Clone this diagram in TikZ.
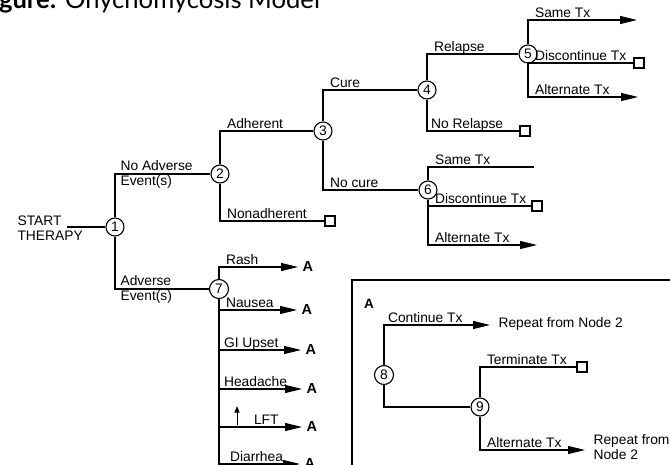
\documentclass[tikz,border=0pt]{standalone}
\usepackage{fontspec}
\setmainfont{Liberation Sans}
\newfontfamily\titlefont{Lato}
\usetikzlibrary{arrows.meta,positioning}

\begin{document}
\begin{tikzpicture}[x=1pt, y=-1pt, >={Triangle[length=17pt,width=8pt]}, line width=1.1pt, font=\fontsize{13.8}{15}\selectfont]
\tikzstyle{chance}=[circle,draw=black,fill=white,minimum size=18pt,inner sep=0pt]
\tikzstyle{stop}=[draw=black,fill=white,minimum size=10pt,inner sep=0pt]
\tikzstyle{elbow}=[to path={|- (\tikztotarget) \tikztonodes}]
\tikzstyle{lbl}=[anchor=south west,xshift=5pt,inner sep=1.5pt,text depth=0pt]
\tikzstyle{lbl2}=[anchor=west,xshift=5pt,align=left,inner sep=0pt]
\tikzstyle{goA}=[anchor=west,inner sep=4pt,font=\bfseries\fontsize{14.5}{15}\selectfont]
\useasboundingbox (0,0) rectangle (670,465);

% title, cut at the top of the page
\node[anchor=base west,inner sep=0pt] (title) at (-22.5,8.5)
  {\titlefont\fontsize{25.6}{27}\selectfont\textbf{Figure:} Onychomycosis Model};

% chance nodes
\node[align=left,anchor=west,inner sep=0pt] (start) at (17,228) {START\\THERAPY};
\coordinate (s0) at (67,227);
\node[chance] (n1) at (115,227) {1};
\node[chance] (n2) at (220,174) {2};
\node[chance] (n3) at (323,131) {3};
\node[chance] (n4) at (427,90)  {4};
\node[chance] (n5) at (528,54)  {5};
\node[chance] (n6) at (428,190) {6};
\node[chance,minimum size=19pt] (n7) at (219,289) {7};

% end points
\node[stop] (t2) at (330,221) {};
\node[stop] (t4) at (525,131) {};
\node[stop] (t5) at (639,63)  {};
\node[stop] (t6) at (537,206) {};
\coordinate (e5a) at (637,20);
\coordinate (e5c) at (638,97);
\coordinate (e6a) at (534,167);
\coordinate (e6c) at (537,245);

% adverse events, all going to A
\node[goA] (A1) at (298,267) {A};
\node[goA] (A2) at (297,310) {A};
\node[goA] (A3) at (301,350) {A};
\node[goA] (A4) at (302,389) {A};
\node[goA] (A5) at (302,427) {A};
\node[goA] (A6) at (300,464) {A};
\coordinate (lftlo) at (237,425);
\coordinate (lfthi) at (237,406);

\draw (s0) -- (n1);
\path
(n1) edge[elbow] node[lbl2] (l1) {No Adverse\\Event(s)} (n2)
     edge[elbow] node[lbl2] (l2) {Adverse\\Event(s)}    (n7)
(n2) edge[elbow] node[lbl] (l3) {Adherent}         (n3)
     edge[elbow] node[lbl] (l4) {Nonadherent}      (t2)
(n3) edge[elbow] node[lbl] (l5) {Cure}             (n4)
     edge[elbow] node[lbl] (l6) {No cure}          (n6)
(n4) edge[elbow] node[lbl] (l7) {Relapse}          (n5)
     edge[elbow] node[lbl,xshift=-3pt] (l8) {No Relapse} (t4)
(n5) edge[elbow,->] node[lbl] (l9)  {Same Tx}        (e5a)
     edge[elbow]    node[lbl] (l10) {Discontinue Tx} (t5)
     edge[elbow,->] node[lbl] (l11) {Alternate Tx}   (e5c)
(n6) edge[elbow]    node[lbl] (l12) {Same Tx}        (e6a)
     edge[elbow]    node[lbl] (l13) {Discontinue Tx} (t6)
     edge[elbow,->] node[lbl] (l14) {Alternate Tx}   (e6c)
(n7) edge[elbow,->] node[lbl] (l15) {Rash}      (A1)
     edge[elbow,->] node[lbl] (l16) {Nausea}    (A2)
     edge[elbow,->] node[lbl,xshift=-2pt] (l17) {GI Upset}  (A3)
     edge[elbow,->] node[lbl,xshift=-2pt] (l18) {Headache}  (A4)
     edge[elbow,->] node[lbl,xshift=28pt] (l19) {LFT} (A5)
     edge[elbow,->] node[lbl,xshift=4pt] (l20) {Diarrhea}  (A6);
\draw[-{Triangle[length=6.5pt,width=5pt]},line width=1pt] (lftlo) -- (lfthi);

% sub-tree A in its box
\coordinate (boxnw) at (352,280);
\coordinate (boxse) at (700,500);
\draw (boxnw) rectangle (boxse);
\node[font=\bfseries\fontsize{13.5}{14}\selectfont] (Abox) at (369,304) {A};
\node[chance,minimum size=19pt] (n8) at (384,375) {8};
\node[chance] (n9) at (480,407) {9};
\node[stop] (t9) at (582,367) {};
\node[anchor=west,inner sep=0pt] (rep1) at (490,324) {\hspace{8pt}Repeat from Node 2};
\node[anchor=west,inner sep=0pt,align=left] (rep2) at (585,447) {\hspace{8pt}Repeat from\\\hspace{8pt}Node 2};
\coordinate (e8) at (490,325);
\coordinate (e9) at (585,450);
\path
(n8) edge[elbow,->] node[lbl,xshift=-3pt] (l21) {Continue Tx} (e8)
     edge[elbow] (n9)
(n9) edge[elbow]    node[lbl] (l22) {Terminate Tx} (t9)
     edge[elbow,->] node[lbl] (l23) {Alternate Tx} (e9);
\end{tikzpicture}
\end{document}
